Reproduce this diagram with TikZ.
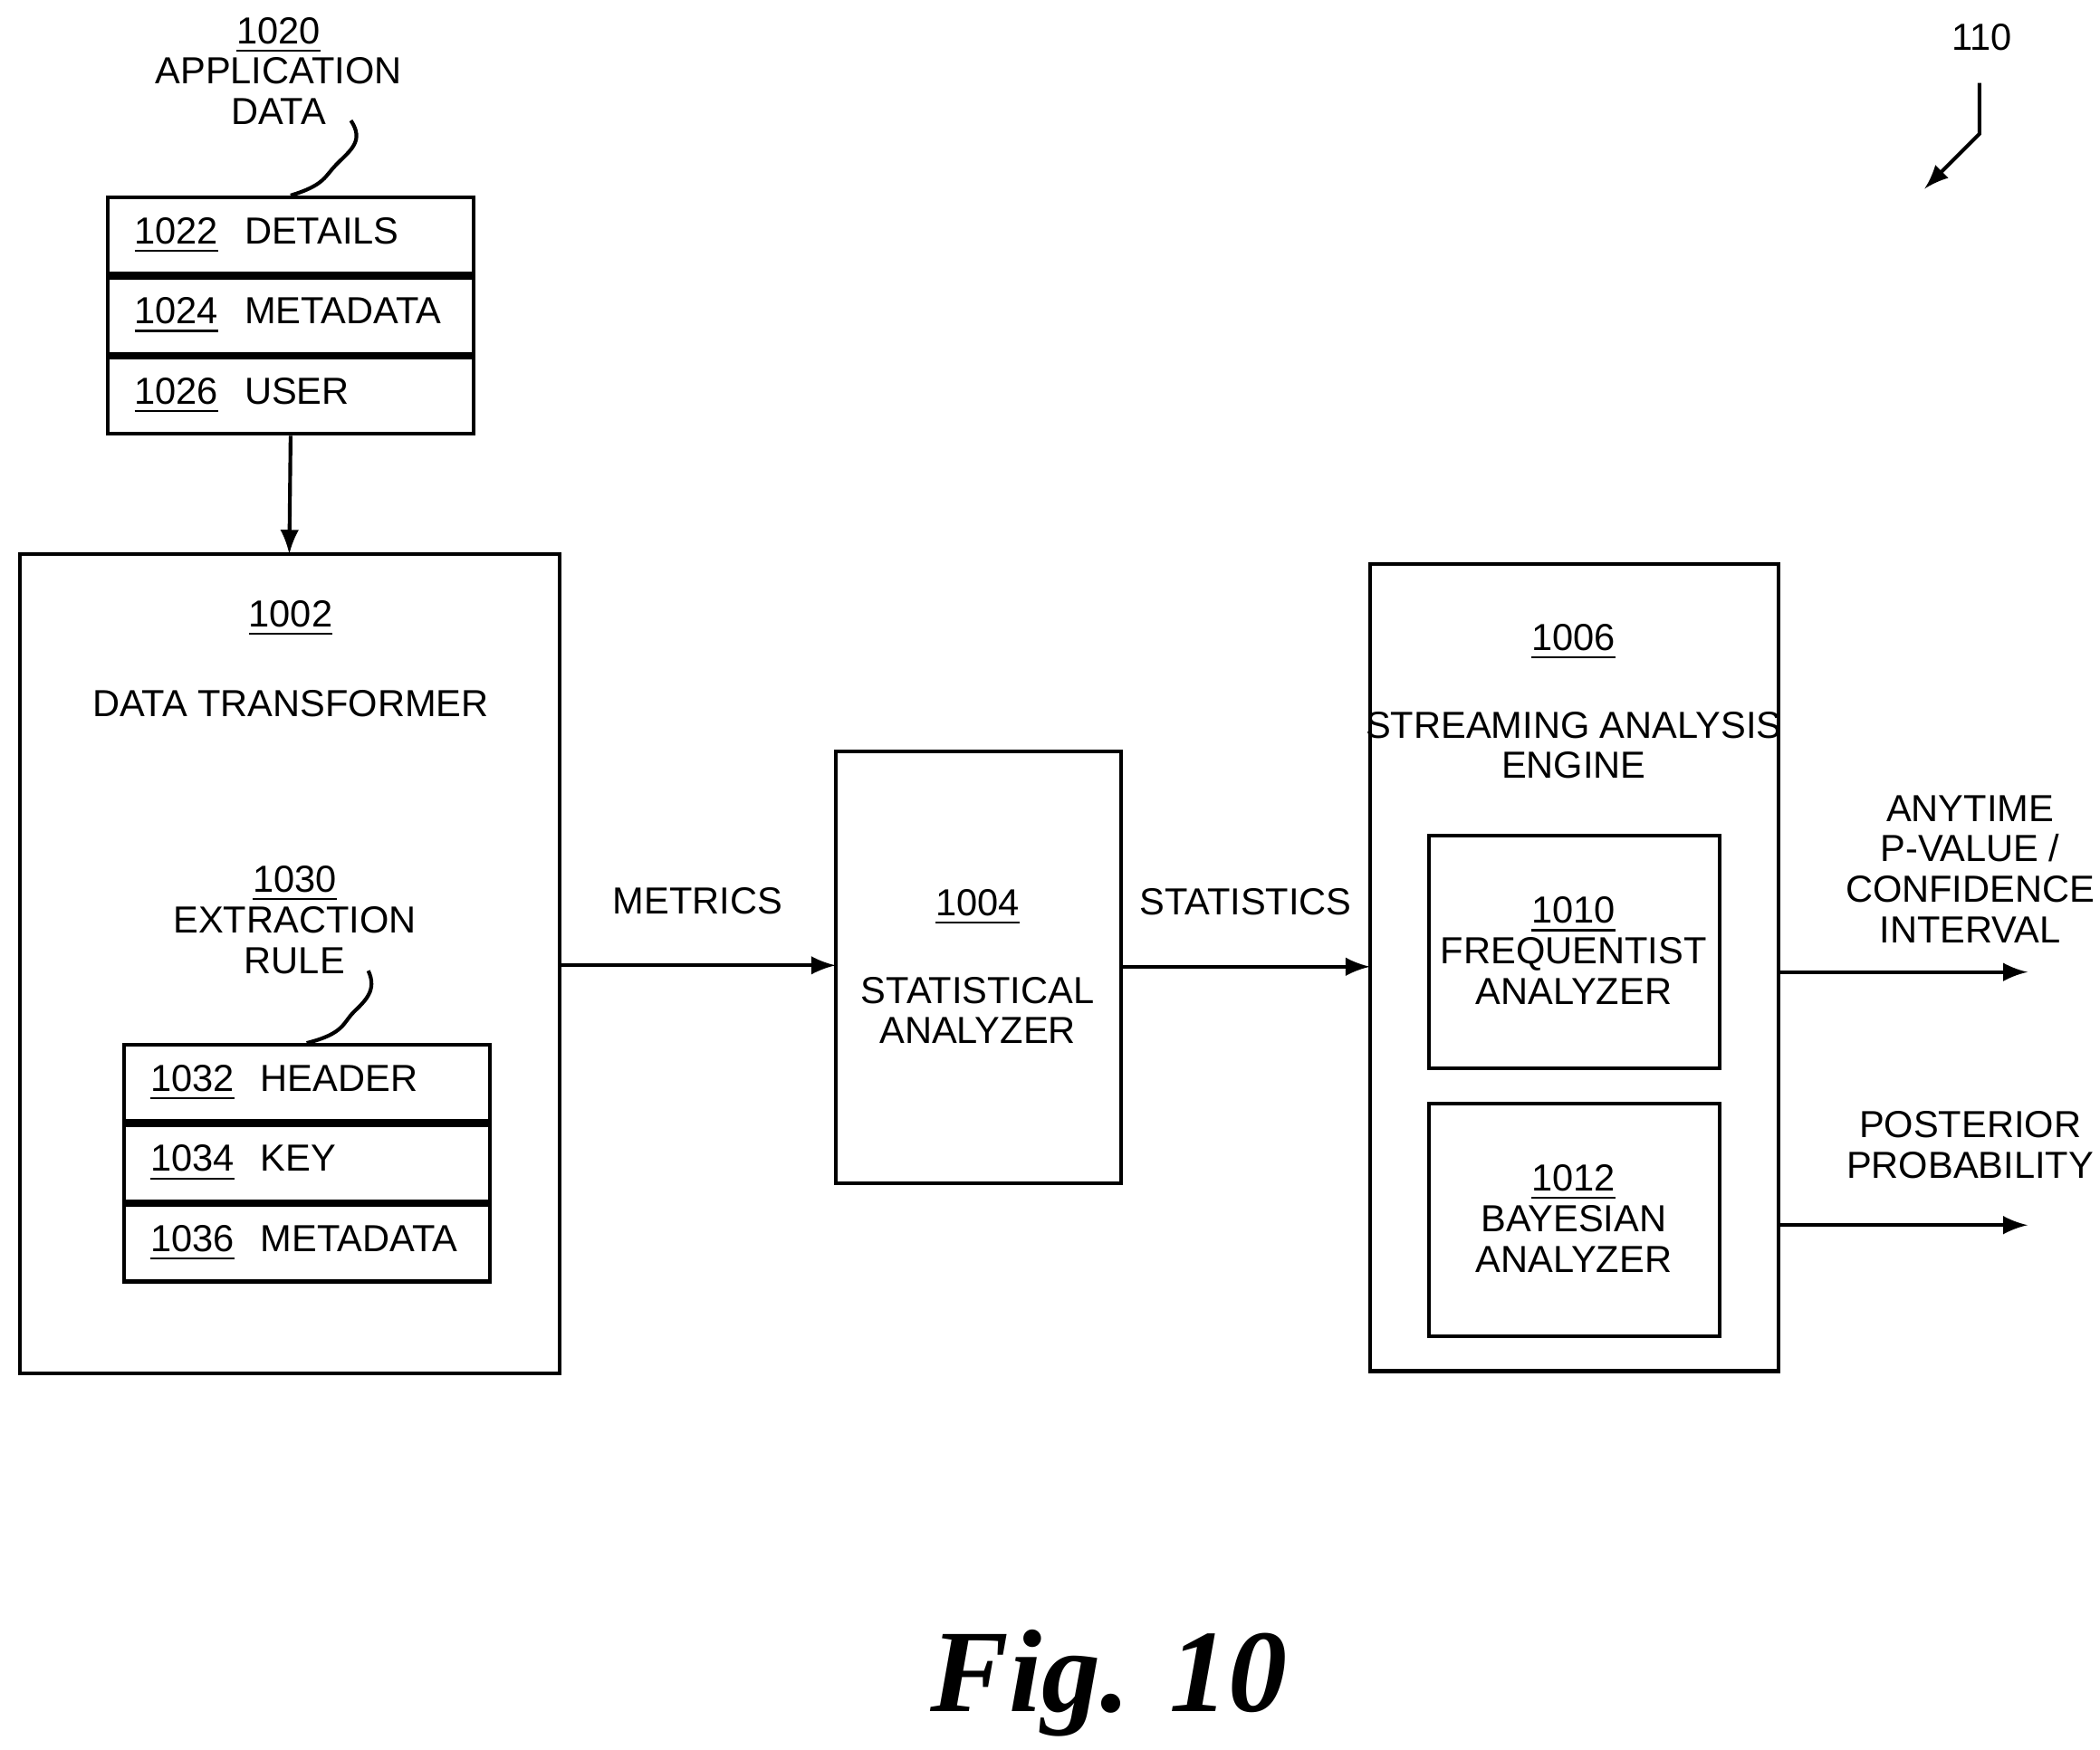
\documentclass[tikz,border=0pt]{standalone}
\usepackage{fontspec}
\setmainfont{Liberation Sans}
\newfontfamily\figfont{Liberation Serif}
\usetikzlibrary{positioning, arrows}
\begin{document}
\begin{tikzpicture}[x=0.01cm, y=-0.01cm, every node/.style={font=\fontsize{8}{8.6}\selectfont, align=center},
    box/.style={draw, thick, minimum width=#1*0.01cm},
    row/.style={draw, thick, inner xsep=0.2cm, text width=2.33cm, align=left, minimum height=0.57cm, inner ysep=0},
    flow/.style={thick, -latex}]

    \useasboundingbox (0,0) rectangle (1568,1307);

    % application data
    \node (appl) at (208,53) {\underline{1020}\\APPLICATION\\DATA};
    \node[row, anchor=north west] (det) at (79,146) {\underline{1022}\hspace{0.7em}DETAILS};
    \node[row, below=0pt of det] (meta) {\underline{1024}\hspace{0.7em}METADATA};
    \node[row, below=0pt of meta] (user) {\underline{1026}\hspace{0.7em}USER};
    \draw[thick] (262,90) .. controls (272,105) and (262,112) .. (252,122) .. controls (242,132) and (243,138) .. (det.north);

    % data transformer
    \draw[thick] (15,414) rectangle (418,1026);
    \coordinate (trin) at (216,414);
    \coordinate (trout) at (418,721);
    \node (trlbl) at (217,492) {\underline{1002}\\[0.37cm]DATA TRANSFORMER};
    \node (rule) at (220,687) {\underline{1030}\\EXTRACTION\\RULE};
    \node[row, anchor=north west] (head) at (91,779) {\underline{1032}\hspace{0.7em}HEADER};
    \node[row, below=0pt of head] (key) {\underline{1034}\hspace{0.7em}KEY};
    \node[row, below=0pt of key] (rmeta) {\underline{1036}\hspace{0.7em}METADATA};
    \draw[thick] (275,725) .. controls (282,740) and (272,748) .. (264,756) .. controls (256,764) and (257,772) .. (head.north);
    \draw[flow] (user.south) -- (trin);

    % statistical analyzer
    \draw[thick] (624,561) rectangle (837,884);
    \coordinate (stin) at (624,721);
    \coordinate (stout) at (837,722);
    \node (stlbl) at (730,722) {\underline{1004}\\[0.35cm]STATISTICAL\\ANALYZER};
    \draw[flow] (trout) -- node[above=0.25cm] {METRICS} (stin);

    % streaming analysis engine
    \draw[thick] (1023,421) rectangle (1328,1024);
    \coordinate (enin) at (1023,722);
    \node (enlbl) at (1175,524) {\underline{1006}\\[0.35cm]STREAMING ANALYSIS\\ENGINE};
    \draw[flow] (stout) -- node[above=0.25cm] {STATISTICS} (enin);
    \draw[thick] (1067,624) rectangle (1284,798);
    \draw[thick] (1067,824) rectangle (1284,998);
    \node (freq) at (1175,710) {\underline{1010}\\FREQUENTIST\\ANALYZER};
    \node (bayes) at (1175,910) {\underline{1012}\\BAYESIAN\\ANALYZER};
    \coordinate (pout) at (1514,726);
    \coordinate (bout) at (1514,915);
    \draw[flow] (1328,726) -- (pout);
    \draw[flow] (1328,915) -- (bout);
    \node (pval) at (1471,649) {ANYTIME\\P-VALUE /\\CONFIDENCE\\INTERVAL};
    \node (post) at (1471,855) {POSTERIOR\\PROBABILITY};

    % reference numeral
    \node (ref) at (1480,28) {110};
    \draw[thick, -latex] (1478,62) -- (1478,100) -- (1437,141);

    \node (fig) at (828,1257) {\figfont\bfseries\itshape\fontsize{25}{30}\selectfont Fig. 10};
\end{tikzpicture}
\end{document}
